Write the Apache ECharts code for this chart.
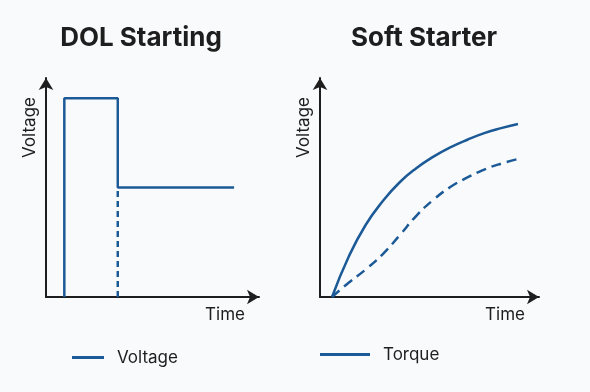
<!DOCTYPE html>
<html>
<head>
<meta charset="utf-8">
<script src="https://cdn.jsdelivr.net/npm/echarts@6/dist/echarts.min.js"></script>
<style>
  html, body { margin: 0; padding: 0; background: #f9fafb; }
  #chart { width: 590px; height: 392px; }
</style>
</head>
<body>
<div id="chart"></div>
<script>
// ---- Data (axis units 0..100 on both axes) ----
const titles = ['DOL Starting', 'Soft Starter'];
const xAxisName = 'Time';
const yAxisName = 'Voltage';

// DOL starting: voltage step profile
const dolTime    = [8.6, 8.6, 33.7, 33.7, 88.3];
const dolVoltage = [0, 90.7, 90.7, 50, 50];
// dashed drop line
const dolDropTime    = [33.7, 33.7];
const dolDropVoltage = [0, 50];

// Soft starter curves
const softTime    = [5.5, 13.2, 20.9, 28.7, 36.4, 44.1, 51.8, 59.5, 67.3, 75.0, 82.7, 90.4];
const softVoltage = [0, 18.6, 33.0, 43.8, 52.4, 58.9, 64.1, 68.3, 71.8, 74.8, 77.1, 79.0];
const softTorque  = [0, 6.6, 12.6, 19.6, 28.2, 37.2, 44.4, 50.2, 54.6, 58.2, 60.9, 63.0];

const legendLeft  = ['Voltage'];
const legendRight = ['Torque'];

// ---- Styles ----
const BLUE = '#1b5a97';
const INK = '#1e1e1e';
const FONT = 'Inter';

const zip = (xs, ys) => xs.map((x, i) => [x, ys[i]]);

function xAxisFor(gridIndex) {
  return {
    type: 'value', gridIndex, min: 0, max: 100,
    axisLine: { show: true, symbol: ['none', 'arrow'], symbolSize: [11, 12],
                lineStyle: { color: INK, width: 2 } },
    axisTick: { show: false }, axisLabel: { show: false }, splitLine: { show: false },
    name: xAxisName, nameLocation: 'end', nameGap: -14,
    nameTextStyle: { fontFamily: FONT, fontSize: 17, color: INK, align: 'right',
                     verticalAlign: 'top', lineHeight: 20, padding: [8, 0, 0, 0] }
  };
}
function yAxisFor(gridIndex) {
  return {
    type: 'value', gridIndex, min: 0, max: 100,
    axisLine: { show: true, symbol: ['none', 'arrow'], symbolSize: [11, 12],
                lineStyle: { color: INK, width: 2 } },
    axisTick: { show: false }, axisLabel: { show: false }, splitLine: { show: false },
    name: yAxisName, nameLocation: 'end', nameGap: -19, nameRotate: 90,
    nameTextStyle: { fontFamily: FONT, fontSize: 17, color: INK, align: 'right',
                     verticalAlign: 'bottom', lineHeight: 20, padding: [0, 0, 6, 0] }
  };
}

const lineBase = { type: 'line', symbol: 'none', showSymbol: false, silent: true };

const option = {
  backgroundColor: '#f9fafb',
  animation: false,
  title: [
    { text: titles[0], left: 136, top: 20, textAlign: 'center',
      textStyle: { fontFamily: FONT, fontSize: 26, fontWeight: 'bold', color: INK } },
    { text: titles[1], left: 419, top: 20, textAlign: 'center',
      textStyle: { fontFamily: FONT, fontSize: 26, fontWeight: 'bold', color: INK } }
  ],
  grid: [
    { left: 46, top: 78, width: 213, height: 219 },
    { left: 320, top: 78, width: 219, height: 219 }
  ],
  xAxis: [xAxisFor(0), xAxisFor(1)],
  yAxis: [yAxisFor(0), yAxisFor(1)],
  legend: [
    { data: legendLeft, left: 67, top: 344, icon: 'rect', itemWidth: 32, itemHeight: 3,
      textStyle: { fontFamily: FONT, fontSize: 17, color: INK, padding: [0, 0, 0, 8] } },
    { data: legendRight, left: 315, top: 341, icon: 'rect', itemWidth: 50, itemHeight: 3,
      textStyle: { fontFamily: FONT, fontSize: 17, color: INK, padding: [0, 0, 0, 8] } }
  ],
  series: [
    Object.assign({}, lineBase, { name: 'Voltage', xAxisIndex: 0, yAxisIndex: 0,
      data: zip(dolTime, dolVoltage),
      lineStyle: { color: BLUE, width: 2.5 }, itemStyle: { color: BLUE } }),
    Object.assign({}, lineBase, { name: 'Voltage drop', xAxisIndex: 0, yAxisIndex: 0,
      data: zip(dolDropTime, dolDropVoltage),
      lineStyle: { color: BLUE, width: 2.5, type: [6, 4] }, itemStyle: { color: BLUE } }),
    Object.assign({}, lineBase, { name: 'Soft voltage', xAxisIndex: 1, yAxisIndex: 1,
      data: zip(softTime, softVoltage), smooth: 0.5,
      lineStyle: { color: BLUE, width: 2.5 }, itemStyle: { color: BLUE } }),
    Object.assign({}, lineBase, { name: 'Torque', xAxisIndex: 1, yAxisIndex: 1,
      data: zip(softTime, softTorque), smooth: 0.5,
      lineStyle: { color: BLUE, width: 2.5, type: [10, 6] }, itemStyle: { color: BLUE } })
  ]
};

const chart = echarts.init(document.getElementById('chart'), null, { renderer: 'canvas' });
chart.setOption(option);
</script>
</body>
</html>
